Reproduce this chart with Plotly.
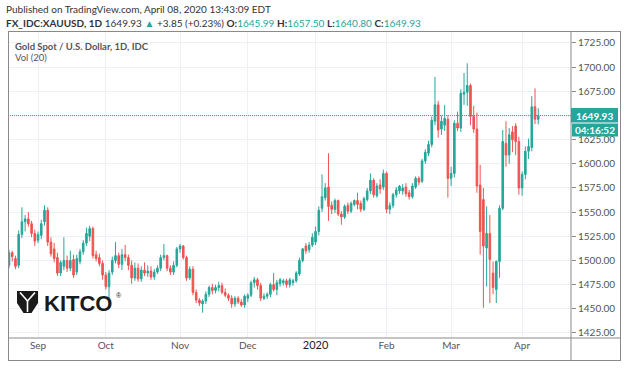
import pandas as pd
import plotly.graph_objects as go

# ---------------- data ----------------
holidays = ["2019-12-25", "2020-01-01"]
dates = [d.strftime("%Y-%m-%d") for d in pd.bdate_range("2019-08-20", "2020-04-08")
         if d.strftime("%Y-%m-%d") not in holidays]

opens = [1495, 1508, 1502, 1495, 1527, 1540, 1543, 1538, 1528,
         1521, 1526, 1540, 1552, 1519, 1512, 1503, 1487, 1494, 1500, 1492, 1501, 1488, 1499, 1509, 1518, 1525, 1533, 1506, 1503, 1497, 1485,
         1473, 1488, 1500, 1505, 1496, 1506, 1503, 1495, 1482, 1492, 1481, 1490, 1487, 1489, 1483, 1488, 1492, 1503, 1505, 1492, 1488, 1495,
         1512, 1515, 1503, 1482, 1491, 1467, 1459, 1455, 1458, 1465, 1472, 1469, 1472, 1474, 1467, 1464, 1461, 1455, 1461, 1457, 1454,
         1461, 1464, 1477, 1480, 1474, 1461, 1463, 1465, 1475, 1470, 1476, 1477, 1479, 1475, 1477, 1479, 1486, 1500, 1515, 1511, 1516,
         1519, 1530, 1554, 1565, 1576, 1557, 1553, 1562, 1548, 1545, 1557, 1551, 1558, 1562, 1559, 1553, 1563, 1572, 1583, 1567, 1578, 1576,
         1590, 1553, 1557, 1568, 1572, 1572, 1576, 1570, 1566, 1576, 1585, 1582, 1603, 1611, 1620, 1644, 1661, 1636, 1640, 1646,
         1585, 1590, 1642, 1637, 1672, 1674, 1681, 1649, 1636, 1578, 1563, 1513, 1528, 1487, 1470, 1499, 1554, 1621, 1609, 1633, 1639, 1623,
         1575, 1589, 1613, 1617, 1659, 1645.99]
highs = [1511, 1510, 1505, 1531, 1555, 1547, 1550, 1541, 1532,
         1530, 1542, 1557, 1555, 1524, 1518, 1508, 1500, 1524, 1505, 1510, 1506, 1506, 1512, 1521, 1534, 1536, 1535, 1510, 1507, 1500, 1488,
         1490, 1504, 1519, 1508, 1512, 1516, 1506, 1500, 1498, 1497, 1494, 1498, 1495, 1494, 1491, 1495, 1506, 1517, 1506, 1495, 1499, 1514,
         1517, 1516, 1505, 1494, 1494, 1470, 1461, 1460, 1468, 1474, 1476, 1475, 1478, 1477, 1471, 1466, 1464, 1463, 1463, 1460, 1465,
         1466, 1479, 1483, 1482, 1477, 1466, 1467, 1477, 1487, 1480, 1482, 1481, 1481, 1482, 1481, 1489, 1503, 1513, 1518, 1519, 1528,
         1535, 1556, 1589, 1580, 1611, 1561, 1564, 1563, 1551, 1558, 1560, 1561, 1563, 1570, 1562, 1566, 1575, 1590, 1585, 1580, 1584, 1594,
         1592, 1560, 1570, 1576, 1578, 1579, 1580, 1573, 1580, 1587, 1587, 1605, 1615, 1624, 1649, 1690, 1665, 1650, 1661, 1650,
         1597, 1645, 1654, 1677, 1694, 1704, 1683, 1660, 1653, 1599, 1575, 1556, 1547, 1499, 1500, 1557, 1635, 1644, 1637, 1639, 1642, 1628,
         1592, 1618, 1626, 1670, 1678, 1657.50]
lows = [1492, 1499, 1491, 1492, 1523, 1530, 1535, 1524, 1515,
        1518, 1522, 1536, 1515, 1504, 1498, 1484, 1484, 1490, 1488, 1489, 1482, 1485, 1496, 1506, 1515, 1520, 1502, 1499, 1494, 1480, 1470,
        1459, 1485, 1497, 1492, 1490, 1499, 1490, 1476, 1479, 1478, 1478, 1484, 1483, 1480, 1480, 1486, 1489, 1500, 1489, 1485, 1485, 1493,
        1508, 1501, 1479, 1480, 1464, 1456, 1453, 1446, 1455, 1462, 1465, 1466, 1468, 1465, 1462, 1458, 1451, 1452, 1455, 1452, 1451,
        1457, 1462, 1472, 1470, 1458, 1459, 1460, 1462, 1468, 1464, 1473, 1474, 1472, 1472, 1474, 1477, 1484, 1498, 1507, 1508, 1514,
        1516, 1526, 1550, 1562, 1541, 1548, 1549, 1546, 1537, 1543, 1548, 1549, 1556, 1553, 1550, 1551, 1561, 1569, 1565, 1565, 1569, 1573,
        1549, 1548, 1554, 1565, 1569, 1568, 1566, 1563, 1564, 1574, 1578, 1580, 1600, 1608, 1617, 1640, 1627, 1630, 1634, 1565,
        1577, 1586, 1634, 1633, 1661, 1660, 1640, 1632, 1570, 1506, 1451, 1473, 1456, 1465, 1456, 1482, 1552, 1597, 1600, 1612, 1609, 1568,
        1567, 1584, 1605, 1613, 1641, 1640.80]
closes = [1508, 1504, 1494, 1527, 1540, 1543, 1538, 1528, 1520,
          1527, 1538, 1552, 1519, 1507, 1502, 1487, 1498, 1500, 1492, 1500, 1485, 1502, 1509, 1518, 1528, 1533, 1505, 1502, 1497, 1485, 1473,
          1487, 1500, 1505, 1496, 1506, 1503, 1495, 1482, 1492, 1481, 1490, 1487, 1489, 1483, 1488, 1492, 1503, 1505, 1492, 1488, 1495, 1512,
          1515, 1503, 1482, 1491, 1467, 1459, 1456, 1458, 1465, 1472, 1469, 1472, 1474, 1467, 1464, 1461, 1455, 1461, 1457, 1454, 1463,
          1464, 1477, 1480, 1474, 1461, 1463, 1465, 1475, 1470, 1477, 1480, 1479, 1475, 1480, 1479, 1487, 1500, 1512, 1510, 1516, 1524,
          1530, 1552, 1566, 1575, 1556, 1553, 1562, 1548, 1545, 1556, 1551, 1559, 1562, 1558, 1553, 1564, 1572, 1583, 1568, 1577, 1574, 1590,
          1553, 1557, 1568, 1573, 1577, 1575, 1569, 1566, 1577, 1585, 1581, 1603, 1612, 1620, 1645, 1661, 1635, 1644, 1647, 1585,
          1590, 1642, 1637, 1673, 1674, 1681, 1649, 1636, 1577, 1530, 1515, 1528, 1501, 1472, 1499, 1554, 1623, 1609, 1630, 1625, 1623, 1575,
          1589, 1613, 1618, 1659, 1646.08, 1649.93]

month_ticks = ["2019-09-02", "2019-10-01", "2019-11-01", "2019-12-02",
               "2020-01-02", "2020-02-03", "2020-03-02", "2020-04-01"]
month_labels = ["Sep", "Oct", "Nov", "Dec",
                "<span style='color:#222;font-size:11px'>2020</span>", "Feb", "Mar", "Apr"]
price_ticks = [1425 + 25 * k for k in range(13)]
# the 1650.00 label is hidden behind the last-price box in the original
price_labels = ["" if v == 1650 else f"{v:.2f}" for v in price_ticks]
last_price = 1649.93

UP = "#26a69a"
DOWN = "#ef5350"
FRAME = "#8a8a8a"
GRID = "#edf1f5"

# ---------------- geometry helpers (pixel -> paper) ----------------
L, R, T, B = 8, 571, 31, 338
W, H = 628, 368


def pxx(x):
    return (x - L) / (R - L)


def pxy(y):
    return (B - y) / (B - T)


fig = go.Figure()
fig.add_trace(go.Candlestick(
    x=dates, open=opens, high=highs, low=lows, close=closes,
    increasing=dict(line=dict(color=UP, width=1), fillcolor=UP),
    decreasing=dict(line=dict(color=DOWN, width=1), fillcolor=DOWN),
    whiskerwidth=0, hoverinfo="skip", showlegend=False,
))

shapes = []
# last price dotted line
shapes.append(dict(type="line", xref="paper", yref="y", x0=0, x1=1,
                   y0=last_price, y1=last_price,
                   line=dict(color=UP, width=1, dash="1px,1px")))
# frame
frame_lines = [((8, 31.5), (621, 31.5)), ((8.5, 31), (8.5, 361)), ((620.5, 31), (620.5, 361)),
               ((8, 360.5), (621, 360.5)), ((571, 31), (571, 361)), ((8, 338), (621, 338))]
for (x0, y0), (x1, y1) in frame_lines:
    shapes.append(dict(type="line", xref="paper", yref="paper",
                       x0=pxx(x0), y0=pxy(y0), x1=pxx(x1), y1=pxy(y1),
                       line=dict(color=FRAME, width=1), layer="above"))
# price boxes
shapes.append(dict(type="rect", xref="paper", yref="paper",
                   x0=pxx(571), x1=pxx(618), y0=pxy(108), y1=pxy(122.5),
                   fillcolor=UP, line=dict(width=0), layer="above"))
shapes.append(dict(type="rect", xref="paper", yref="paper",
                   x0=pxx(572), x1=pxx(618), y0=pxy(123.5), y1=pxy(136.5),
                   fillcolor=UP, line=dict(width=0), layer="above"))
# KITCO icon
icon = [(17, 291), (38, 291), (38, 303), (31.5, 313), (23.5, 313), (17, 303)]
path = "M " + " L ".join(f"{pxx(a)},{pxy(b)}" for a, b in icon) + " Z"
shapes.append(dict(type="path", xref="paper", yref="paper", path=path,
                   fillcolor="#1a1a1a", line=dict(width=0), layer="above"))
for (x0, y0), (x1, y1) in [((20, 292.5), (27.5, 301)), ((35, 292.5), (27.5, 301)),
                           ((27.5, 301), (27.5, 312))]:
    shapes.append(dict(type="line", xref="paper", yref="paper",
                       x0=pxx(x0), y0=pxy(y0), x1=pxx(x1), y1=pxy(y1),
                       line=dict(color="white", width=1.6), layer="above"))

TXT = "#333333"
T2 = f"<span style='color:{UP}'>"
ann = []


def add_text(x, y, text, size=10, color=TXT, family="Lato", xanchor="left"):
    ann.append(dict(x=pxx(x), y=pxy(y), xref="paper", yref="paper", text=text,
                    showarrow=False, xanchor=xanchor, yanchor="middle",
                    font=dict(family=family, size=size, color=color)))


add_text(4, 9, "Published on TradingView.com, April 08, 2020 13:43:09 EDT")
add_text(4, 23, "<b>FX_IDC:XAUUSD, 1D</b> 1649.93 " + T2 + "▲</span> +3.85 (+0.23%) "
         "<b>O:</b>" + T2 + "1645.99</span> <b>H:</b>" + T2 + "1657.50</span> "
         "<b>L:</b>" + T2 + "1640.80</span> <b>C:</b>" + T2 + "1649.93</span>")
add_text(13, 46, "<b>Gold Spot / U.S. Dollar, 1D, IDC</b>", size=9.5, color="#555555")
add_text(13, 57, "Vol (20)", size=9.5, color="#555555")
add_text(42, 303, "<b>KITCO</b>", size=22, color="#1a1a1a", family="Liberation Sans")
add_text(114, 295, "®", size=7, color="#1a1a1a", family="Liberation Sans")
add_text(594.5, 115.5, "<b>1649.93</b>", size=10, color="white", xanchor="center")
add_text(595, 130, "<b>04:16:52</b>", size=10, color="white", xanchor="center")

fig.update_layout(
    width=W, height=H,
    margin=dict(l=L, r=W - R, t=T, b=H - B),
    paper_bgcolor="white", plot_bgcolor="white",
    shapes=shapes, annotations=ann,
    font=dict(family="Lato", size=10, color="#4a4a4a"),
    xaxis=dict(type="category", range=[-0.31, 174.15], rangeslider=dict(visible=False),
               tickmode="array", tickvals=month_ticks, ticktext=month_labels,
               showgrid=True, gridcolor=GRID, gridwidth=1, ticks="", showline=False,
               zeroline=False, tickfont=dict(size=10, color="#555555")),
    yaxis=dict(side="right", range=[1419.8, 1737.4], tickmode="array",
               tickvals=price_ticks, ticktext=price_labels,
               showgrid=True, gridcolor=GRID, gridwidth=1, ticks="outside",
               ticklen=4, tickcolor=FRAME, showline=False, zeroline=False,
               tickfont=dict(size=10, color="#555555")),
    hovermode=False,
)

fig.write_html("out.html", config={"displayModeBar": False},
               post_script="document.body.style.margin='0';")
